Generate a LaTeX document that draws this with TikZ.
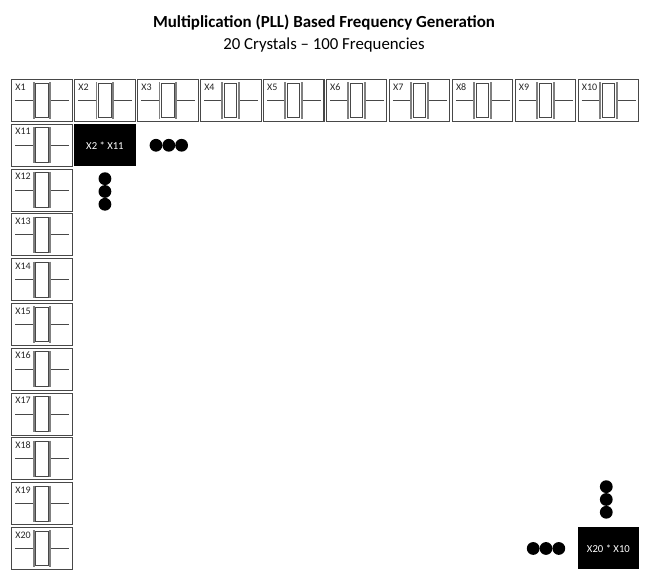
\documentclass[tikz,border=0pt]{standalone}
\usepackage{fontspec}
\setmainfont{Carlito}
\usetikzlibrary{positioning}
\definecolor{xedge}{HTML}{484848}
\definecolor{xplate}{HTML}{808080}

\begin{document}
\begin{tikzpicture}[
    xname/.style={font=\fontsize{7.5}{9}\selectfont, text=black!85, inner sep=0pt, text height=5pt, text depth=0pt, anchor=north west, xshift=2.6pt, yshift=-2.8pt},
    xtal/.style={rectangle, draw=xedge, line width=0.8pt, outer sep=0pt, minimum width=45.4pt, minimum height=31.5pt, inner sep=0pt, fill=white,
        label={[xname]north west:#1},
        path picture={
            \begin{scope}[shift={(path picture bounding box.center)}]
                \draw[xedge, line width=0.7pt] (-20pt,0pt) -- (-6.4pt,0pt);
                \draw[xedge, line width=0.7pt] (6.4pt,0pt) -- (20.4pt,0pt);
                \draw[xplate, line width=1.4pt] (-6.3pt,13.6pt) -- (-6.3pt,-13.6pt);
                \draw[xplate, line width=1.4pt] (6.3pt,13.6pt) -- (6.3pt,-13.6pt);
                \draw[xedge, line width=0.75pt, fill=white] (-4.6pt,-13pt) rectangle (4.6pt,13pt);
            \end{scope}
        }},
    prod/.style={rectangle, fill=black, outer sep=0pt, minimum width=46pt, minimum height=31.5pt, inner sep=0pt, font=\fontsize{8}{9}\selectfont, text=white},
    dot/.style={circle, fill=black, minimum size=9.6pt, inner sep=0pt, outer sep=0pt},
]

% Canvas
\path[use as bounding box] (0pt,0pt) rectangle (487.5pt,-436.5pt);

% Title
\node[font=\fontsize{12.7}{15}\bfseries\selectfont, inner sep=0pt] (title) at (243pt,-17pt) {Multiplication (PLL) Based Frequency Generation};
\node[font=\fontsize{12.6}{15}\selectfont, inner sep=0pt, below=5.2pt of title] (subtitle) {20 Crystals -- 100 Frequencies};

% Top row
\node[xtal=X1, anchor=north west] (x1) at (8.8pt,-59.6pt) {};
\node[xtal=X2, right=1.8pt of x1] (x2) {};
\node[xtal=X3, right=1.8pt of x2] (x3) {};
\node[xtal=X4, right=1.8pt of x3] (x4) {};
\node[xtal=X5, right=1.8pt of x4] (x5) {};
\node[xtal=X6, right=1.8pt of x5] (x6) {};
\node[xtal=X7, right=1.8pt of x6] (x7) {};
\node[xtal=X8, right=1.8pt of x7] (x8) {};
\node[xtal=X9, right=1.8pt of x8] (x9) {};
\node[xtal=X10, right=1.8pt of x9] (x10) {};

% Left column
\node[xtal=X11, below=2.1pt of x1] (x11) {};
\node[xtal=X12, below=2.1pt of x11] (x12) {};
\node[xtal=X13, below=2.1pt of x12] (x13) {};
\node[xtal=X14, below=2.1pt of x13] (x14) {};
\node[xtal=X15, below=2.1pt of x14] (x15) {};
\node[xtal=X16, below=2.1pt of x15] (x16) {};
\node[xtal=X17, below=2.1pt of x16] (x17) {};
\node[xtal=X18, below=2.1pt of x17] (x18) {};
\node[xtal=X19, below=2.1pt of x18] (x19) {};
\node[xtal=X20, below=2.1pt of x19] (x20) {};

% Products
\node[prod] (pfirst) at (x2 |- x11) {X2 * X11};
\node[prod] (plast) at (x10 |- x20) {X20 * X10};

% Dots after the first product
\node[dot, right=10.5pt of pfirst] (da1) {};
\node[dot, right=0pt of da1] (da2) {};
\node[dot, right=0pt of da2] (da3) {};
\node[dot, below=4.5pt of pfirst] (db1) {};
\node[dot, below=0pt of db1] (db2) {};
\node[dot, below=0pt of db2] (db3) {};

% Dots before the last product
\node[dot, left=9.4pt of plast] (dc3) {};
\node[dot, left=0pt of dc3] (dc2) {};
\node[dot, left=0pt of dc2] (dc1) {};
\node[dot, above=6.6pt of plast, xshift=-1.6pt] (dd3) {};
\node[dot, above=0pt of dd3] (dd2) {};
\node[dot, above=0pt of dd2] (dd1) {};

\end{tikzpicture}
\end{document}
